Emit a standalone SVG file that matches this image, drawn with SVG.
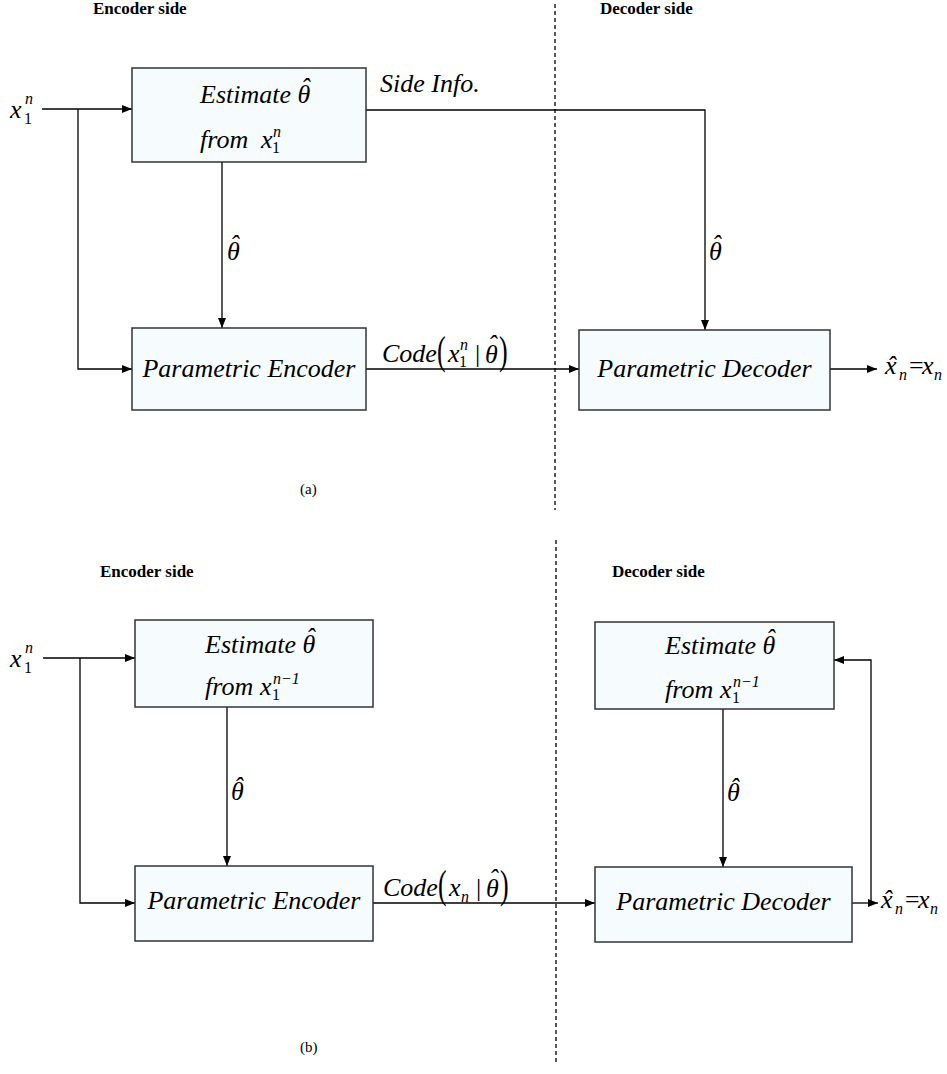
<svg xmlns="http://www.w3.org/2000/svg" width="947" height="1074" viewBox="0 0 947 1074">
  <defs>
    <marker id="arrow" markerWidth="10" markerHeight="8" refX="10" refY="4" orient="auto" markerUnits="userSpaceOnUse">
      <path d="M0,0 L10,4 L0,8 z" fill="#000"/>
    </marker>
    <style>
      .box { fill: #F6FCFD; stroke: #333; stroke-width: 1.5; }
      .ln { fill: none; stroke: #000; stroke-width: 1.3; }
      .arr { marker-end: url(#arrow); }
      .dash { stroke: #000; stroke-width: 1.3; stroke-dasharray: 4 3; }
      .m { font-family: "Liberation Serif", "Times New Roman", serif; font-style: italic; font-size: 26px; fill: #000; }
      .s { font-size: 16px; }
      .up { font-style: normal; }
      .hd { font-family: "Liberation Serif", "Times New Roman", serif; font-weight: bold; font-size: 17px; fill: #000; }
      .cap { font-family: "Liberation Serif", "Times New Roman", serif; font-size: 15px; fill: #000; }
    </style>
  </defs>
  <rect width="947" height="1074" fill="#fff"/>

  <!-- ================= (a) side information ================= -->
  <g id="a-headings">
    <text class="hd" x="93" y="14">Encoder side</text>
    <text class="hd" x="600" y="14">Decoder side</text>
    <text class="cap" x="300" y="494">(a)</text>
  </g>

  <g id="a-connectors">
    <line class="dash" x1="555" y1="4" x2="555" y2="510"/>
    <line class="ln arr" x1="42" y1="109" x2="132" y2="109"/>
    <polyline class="ln arr" points="78,109 78,369 132,369"/>
    <line class="ln arr" x1="222" y1="162" x2="222" y2="328"/>
    <polyline class="ln arr" points="366,110 705,110 705,330"/>
    <line class="ln arr" x1="366" y1="369" x2="579" y2="369"/>
    <line class="ln arr" x1="830" y1="369" x2="877" y2="369"/>
  </g>

  <g id="a-input-label">
    <text class="m" x="10" y="118">x</text>
    <text class="m s" x="25" y="104">n</text>
    <text class="m s up" x="24" y="124">1</text>
  </g>

  <g id="a-estimate">
    <rect class="box" x="132" y="68" width="234" height="94"/>
    <text class="m" x="200" y="103">Estimate θ</text>
    <text class="m" x="301" y="96">ˆ</text>
    <text class="m" x="200" y="148">from</text>
    <text class="m" x="261" y="148">x</text>
    <text class="m s" x="273" y="137">n</text>
    <text class="m s up" x="272" y="153">1</text>
  </g>

  <g id="a-theta-enc">
    <text class="m" x="227" y="260">θ</text>
    <text class="m" x="230" y="252.5">ˆ</text>
  </g>

  <g id="a-encoder">
    <rect class="box" x="132" y="328" width="234" height="82"/>
    <text class="m" x="249" y="377" text-anchor="middle">Parametric Encoder</text>
  </g>

  <g id="a-side-info">
    <text class="m" x="380" y="92">Side Info.</text>
    <text class="m" x="709" y="260">θ</text>
    <text class="m" x="712" y="252.5">ˆ</text>
  </g>

  <g id="a-code-label">
    <text class="m" x="382" y="362">Code</text>
    <text class="m up" transform="translate(437,364) scale(1,1.5)" font-size="28">(</text>
    <text class="m" x="448" y="362">x</text>
    <text class="m s" x="460" y="350">n</text>
    <text class="m s up" x="459" y="367">1</text>
    <text class="m up" x="475" y="362">|</text>
    <text class="m" x="485" y="363">θ</text>
    <text class="m" x="488" y="353">ˆ</text>
    <text class="m up" transform="translate(499,364) scale(1,1.5)" font-size="28">)</text>
  </g>

  <g id="a-decoder">
    <rect class="box" x="579" y="330" width="251" height="80"/>
    <text class="m" x="704.5" y="377" text-anchor="middle">Parametric Decoder</text>
  </g>

  <g id="a-output-label">
    <text class="m" x="885" y="374" font-size="24">x</text>
    <text class="m" x="887" y="374" font-size="24">ˆ</text>
    <text class="m s" x="899" y="380">n</text>
    <text class="m up" x="909" y="374" font-size="22">=</text>
    <text class="m" x="922" y="374" font-size="24">x</text>
    <text class="m s" x="934" y="380">n</text>
  </g>

  <!-- ================= (b) sequential estimation ================= -->
  <g id="b-headings">
    <text class="hd" x="100" y="577">Encoder side</text>
    <text class="hd" x="612" y="577">Decoder side</text>
    <text class="cap" x="300" y="1052">(b)</text>
  </g>

  <g id="b-connectors">
    <line class="dash" x1="556" y1="540" x2="556" y2="1062"/>
    <line class="ln arr" x1="43" y1="658" x2="135" y2="658"/>
    <polyline class="ln arr" points="80,658 80,903 135,903"/>
    <line class="ln arr" x1="227" y1="707" x2="227" y2="866"/>
    <line class="ln arr" x1="373" y1="903" x2="595" y2="903"/>
    <line class="ln arr" x1="723" y1="709" x2="723" y2="867"/>
    <line class="ln arr" x1="852" y1="903" x2="878" y2="903"/>
    <polyline class="ln arr" points="871,903 871,660 834,660"/>
  </g>

  <g id="b-input-label">
    <text class="m" x="10" y="667">x</text>
    <text class="m s" x="25" y="653">n</text>
    <text class="m s up" x="24" y="673">1</text>
  </g>

  <g id="b-estimate-enc">
    <rect class="box" x="135" y="620" width="238" height="87"/>
    <text class="m" x="205" y="653">Estimate θ</text>
    <text class="m" x="306" y="646">ˆ</text>
    <text class="m" x="205" y="695">from</text>
    <text class="m" x="260" y="695">x</text>
    <text class="m s" x="273" y="684">n−1</text>
    <text class="m s up" x="272" y="700">1</text>
  </g>

  <g id="b-theta-enc">
    <text class="m" x="231" y="800">θ</text>
    <text class="m" x="234" y="794.5">ˆ</text>
  </g>

  <g id="b-encoder">
    <rect class="box" x="135" y="866" width="238" height="75"/>
    <text class="m" x="254" y="909" text-anchor="middle">Parametric Encoder</text>
  </g>

  <g id="b-code-label">
    <text class="m" x="383" y="896">Code</text>
    <text class="m up" transform="translate(438,898) scale(1,1.5)" font-size="28">(</text>
    <text class="m" x="449" y="896">x</text>
    <text class="m s" x="461" y="902">n</text>
    <text class="m up" x="476" y="896">|</text>
    <text class="m" x="486" y="897">θ</text>
    <text class="m" x="489" y="887">ˆ</text>
    <text class="m up" transform="translate(500,898) scale(1,1.5)" font-size="28">)</text>
  </g>

  <g id="b-estimate-dec">
    <rect class="box" x="595" y="622" width="239" height="87"/>
    <text class="m" x="665" y="654">Estimate θ</text>
    <text class="m" x="766" y="647">ˆ</text>
    <text class="m" x="665" y="698">from</text>
    <text class="m" x="720" y="698">x</text>
    <text class="m s" x="733" y="687">n−1</text>
    <text class="m s up" x="732" y="703">1</text>
  </g>

  <g id="b-theta-dec">
    <text class="m" x="727" y="801">θ</text>
    <text class="m" x="730" y="795.5">ˆ</text>
  </g>

  <g id="b-decoder">
    <rect class="box" x="595" y="867" width="257" height="75"/>
    <text class="m" x="723.5" y="910" text-anchor="middle">Parametric Decoder</text>
  </g>

  <g id="b-output-label">
    <text class="m" x="881" y="908" font-size="24">x</text>
    <text class="m" x="883" y="908" font-size="24">ˆ</text>
    <text class="m s" x="895" y="914">n</text>
    <text class="m up" x="905" y="908" font-size="22">=</text>
    <text class="m" x="918" y="908" font-size="24">x</text>
    <text class="m s" x="930" y="914">n</text>
  </g>
</svg>
